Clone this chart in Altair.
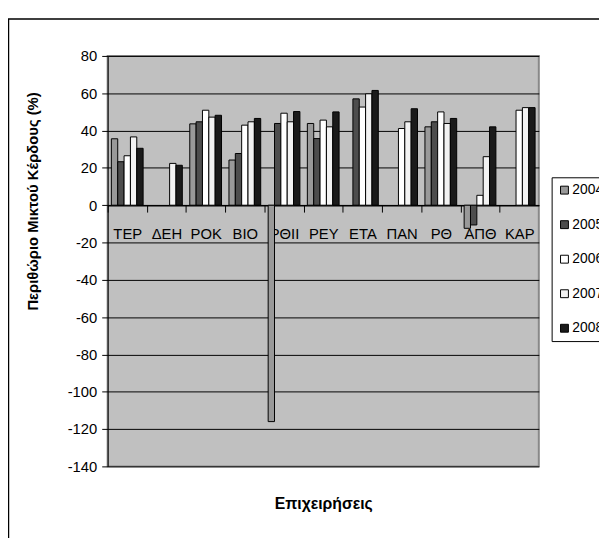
import altair as alt
import pandas as pd

# ---- data ----
companies = ["ΤΕΡ", "ΔΕΗ", "ΡΟΚ", "ΒΙΟ", "ΡΘΙΙ", "ΡΕΥ", "ΕΤΑ", "ΠΑΝ", "ΡΘ", "ΑΠΘ", "ΚΑΡ"]
years = ["2004", "2005", "2006", "2007", "2008"]
v2004 = [35.6, None, 43.6, 24.2, -116.0, 43.8, None, None, 42.0, -12.4, None]
v2005 = [23.3, None, 44.7, 27.7, 43.8, 35.7, 57.0, None, 44.7, -10.6, None]
v2006 = [26.5, None, 50.9, 42.9, 49.3, 45.6, 52.6, 41.1, 50.0, 5.3, 50.9]
v2007 = [36.6, 22.4, 47.2, 44.7, 44.7, 42.0, 59.7, 44.7, 43.8, 26.0, 52.3]
v2008 = [30.5, 21.4, 48.2, 46.5, 50.2, 50.0, 61.5, 51.7, 46.5, 42.0, 52.3]
y_ticks = [-140, -120, -100, -80, -60, -40, -20, 0, 20, 40, 60, 80]
colors = ["#999999", "#4d4d4d", "#ffffff", "#f2f2f2", "#1a1a1a"]

series = dict(zip(years, [v2004, v2005, v2006, v2007, v2008]))
rows = []
for yr, vals in series.items():
    for c, v in zip(companies, vals):
        if v is not None:
            rows.append({"company": c, "year": yr, "value": v})
df = pd.DataFrame(rows)

# ---- layout ----
W, H = 437, 416
YMIN, YMAX = -140, 80
PI, PO = 0.19, 0.095
step = W / (len(companies) - PI + 2 * PO)
zero_offset = -H * (0 - YMIN) / (YMAX - YMIN)

FONT = "Liberation Sans, Arial"

bars = alt.Chart(df).mark_bar(stroke="black", strokeWidth=1).encode(
    x=alt.X(
        "company:N",
        sort=companies,
        scale=alt.Scale(paddingInner=PI, paddingOuter=PO),
        axis=alt.Axis(
            title="Επιχειρήσεις",
            offset=zero_offset,
            bandPosition=0.5,
            tickOffset=-step / 2,
            labelOffset=step / 2,
            labelAngle=0,
            labelFont=FONT,
            labelFontSize=15,
            labelColor="black",
            labelPadding=15,
            tickSize=7,
            tickColor="black",
            domainColor="black",
            domainWidth=1.5,
            grid=False,
            titleFont=FONT,
            titleFontSize=16,
            titleFontWeight="bold",
            titleColor="black",
            titleX=W / 2,
            titleY=302,
            titleAlign="center",
            titleBaseline="middle",
        ),
    ),
    xOffset=alt.XOffset("year:N", scale=alt.Scale(domain=years, paddingInner=0, paddingOuter=0)),
    y=alt.Y(
        "value:Q",
        scale=alt.Scale(domain=[YMIN, YMAX], nice=False, zero=False),
        axis=alt.Axis(
            values=y_ticks,
            labelExpr="'' + datum.value",
            title="Περιθώριο Μικτού Κέρδους (%)",
            labelFont=FONT,
            labelFontSize=15,
            labelColor="black",
            labelPadding=5,
            tickSize=6,
            tickColor="black",
            domainColor="black",
            domainWidth=1,
            gridColor="black",
            gridWidth=1,
            titleFont=FONT,
            titleFontSize=15,
            titleFontWeight="bold",
            titleColor="black",
            titleX=-76,
            titleY=147,
            titleAngle=270,
            titleAlign="center",
            titleBaseline="middle",
        ),
    ),
    color=alt.Color(
        "year:N",
        scale=alt.Scale(domain=years, range=colors),
        legend=alt.Legend(
            title=None,
            orient="none",
            legendX=450,
            legendY=123,
            strokeColor="black",
            fillColor="white",
            padding=6,
            symbolType="square",
            symbolSize=64,
            symbolStrokeColor="black",
            symbolStrokeWidth=1,
            labelFont=FONT,
            labelFontSize=14,
            labelColor="black",
            labelOffset=1,
            rowPadding=21,
        ),
    ),
)

frame = alt.Chart(pd.DataFrame({"k": [0]})).mark_rect(
    fillOpacity=0, stroke="black", strokeWidth=1.5
).encode(
    x=alt.value(-100.5), x2=alt.value(W + 200),
    y=alt.value(-37.5), y2=alt.value(H + 200),
)

chart = alt.layer(frame, bars).properties(
    width=W,
    height=H,
    autosize=alt.AutoSizeParams(type="none"),
    padding={"left": 101, "top": 45, "right": 61, "bottom": 69},
).configure(background="white").configure_view(
    fill="#c0c0c0", stroke="#888888", strokeWidth=2
)

chart.save("out.html", embed_options={"renderer": "svg", "actions": False})
